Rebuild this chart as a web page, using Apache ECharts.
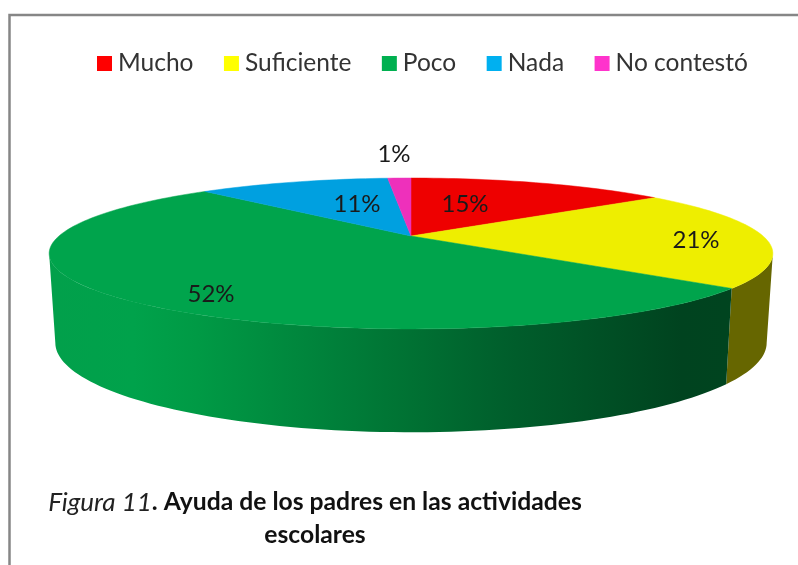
<!DOCTYPE html>
<html>
<head>
<meta charset="utf-8">
<style>
  html, body { margin: 0; padding: 0; background: #fff; }
  #chart { width: 798px; height: 565px; }
</style>
</head>
<body>
<div id="chart"></div>
<script src="https://cdn.jsdelivr.net/npm/echarts@6/dist/echarts.min.js"></script>
<script>
const categories = ['Mucho', 'Suficiente', 'Poco', 'Nada', 'No contestó']
// shown as 15 / 21 / 52 / 11 / 1 once rounded; decimals
const shares = [14.5, 21.3, 52.2, 10.7, 1.3]

const legendColors = ['#ff0000', '#ffff00', '#00b050', '#00b0f0', '#ff33cc']
const topColors = ['#ee0000', '#eeee00', '#00a44c', '#00a0e0', '#ee30bb']
const FONT = 'Lato, "Open Sans", sans-serif'

// tilted disc: projective map of a unit circle, so the apex sits above the ellipse centre
const topFace = { cx: 411, cy: 236, a: 352, b: 71.4, k: 0.2317 }
const lowFace = { cx: 411, cy: 322, a: 346, b: 84.7, k: 0.2317 }
const WALL_FROM = 103.4
const WALL_TO = 256.6

const labelAnchors = [[465, 204], [696, 240], [211, 294], [357, 204], [394, 154]]

const wallFills = [
  '#666600',
  '#666600',
  new echarts.graphic.LinearGradient(55, 0, 767, 0, [
    { offset: 0, color: '#02a04b' },
    { offset: 0.11, color: '#00a24b' },
    { offset: 0.2, color: '#009a45' },
    { offset: 0.39, color: '#00803a' },
    { offset: 0.48, color: '#007434' },
    { offset: 0.63, color: '#005f2c' },
    { offset: 0.88, color: '#00431f' },
    { offset: 1, color: '#00451f' },
  ], true),
  '#005a78',
  '#771a5e',
]

function project(face, deg) {
  const t = (deg * Math.PI) / 180
  const u = Math.sin(t)
  const v = -Math.cos(t)
  const w = 1 - face.k * v
  return [face.cx + (face.a * u) / w, face.cy + (face.b * v) / w]
}

function sampleAngles(from, to) {
  const steps = Math.max(2, Math.ceil((to - from) / 1.5))
  const out = []
  for (let i = 0; i <= steps; i++) out.push(from + ((to - from) * i) / steps)
  return out
}

function sliceRange(index) {
  const total = shares.reduce((s, v) => s + v, 0)
  let before = 0
  for (let i = 0; i < index; i++) before += shares[i]
  return [(before / total) * 360, ((before + shares[index]) / total) * 360]
}

function makeRenderItem(index) {
  return function (params, api) {
    const [from, to] = sliceRange(index)
    const children = []

    const wFrom = Math.max(from, WALL_FROM)
    const wTo = Math.min(to, WALL_TO)
    if (wTo > wFrom) {
      const angles = sampleAngles(wFrom, wTo)
      const upper = angles.map((a) => project(topFace, a))
      const lower = angles.map((a) => project(lowFace, a)).reverse()
      children.push({
        type: 'polygon',
        shape: { points: upper.concat(lower) },
        style: { fill: wallFills[index] },
      })
    }

    const rim = sampleAngles(from, to).map((a) => project(topFace, a))
    children.push({
      type: 'polygon',
      z2: 5,
      shape: { points: [[topFace.cx, topFace.cy]].concat(rim) },
      style: { fill: topColors[index], stroke: topColors[index], lineWidth: 0.5 },
    })

    children.push({
      type: 'text',
      z2: 10,
      style: {
        x: labelAnchors[index][0],
        y: labelAnchors[index][1],
        text: Math.round(api.value(0)) + '%',
        fill: '#1a1a1a',
        font: '24px ' + FONT,
        align: 'center',
        verticalAlign: 'middle',
      },
    })
    return { type: 'group', children }
  }
}

const chart = echarts.init(document.getElementById('chart'), null, { renderer: 'canvas' })

chart.setOption({
  backgroundColor: '#ffffff',
  animation: false,
  color: legendColors,
  title: {
    left: 315,
    top: 486,
    padding: 0,
    textAlign: 'center',
    text: '{i|Figura 11}{b|. Ayuda de los padres en las actividades}\n{b|escolares}',
    textStyle: {
      rich: {
        i: { fontFamily: FONT, fontStyle: 'italic', fontWeight: 'normal', fontSize: 26, lineHeight: 33, color: '#222222' },
        b: { fontFamily: FONT, fontWeight: 'bold', fontSize: 24.7, lineHeight: 33, color: '#111111' },
      },
    },
  },
  legend: {
    left: 97,
    top: 51,
    padding: 0,
    itemWidth: 15,
    itemHeight: 15,
    itemGap: 30.5,
    icon: 'rect',
    selectedMode: false,
    textStyle: { fontFamily: FONT, fontSize: 24.5, color: '#333333', padding: [0, 0, 0, 1] },
    data: categories,
  },
  graphic: [
    {
      type: 'rect',
      shape: { x: 9.5, y: 15, width: 820, height: 580 },
      style: { fill: 'none', stroke: '#868686', lineWidth: 2.5 },
      silent: true,
    },
  ],
  series: categories.map((name, i) => ({
    type: 'custom',
    name,
    coordinateSystem: 'none',
    silent: true,
    itemStyle: { color: legendColors[i] },
    renderItem: makeRenderItem(i),
    data: [[shares[i]]],
  })),
})
</script>
</body>
</html>
